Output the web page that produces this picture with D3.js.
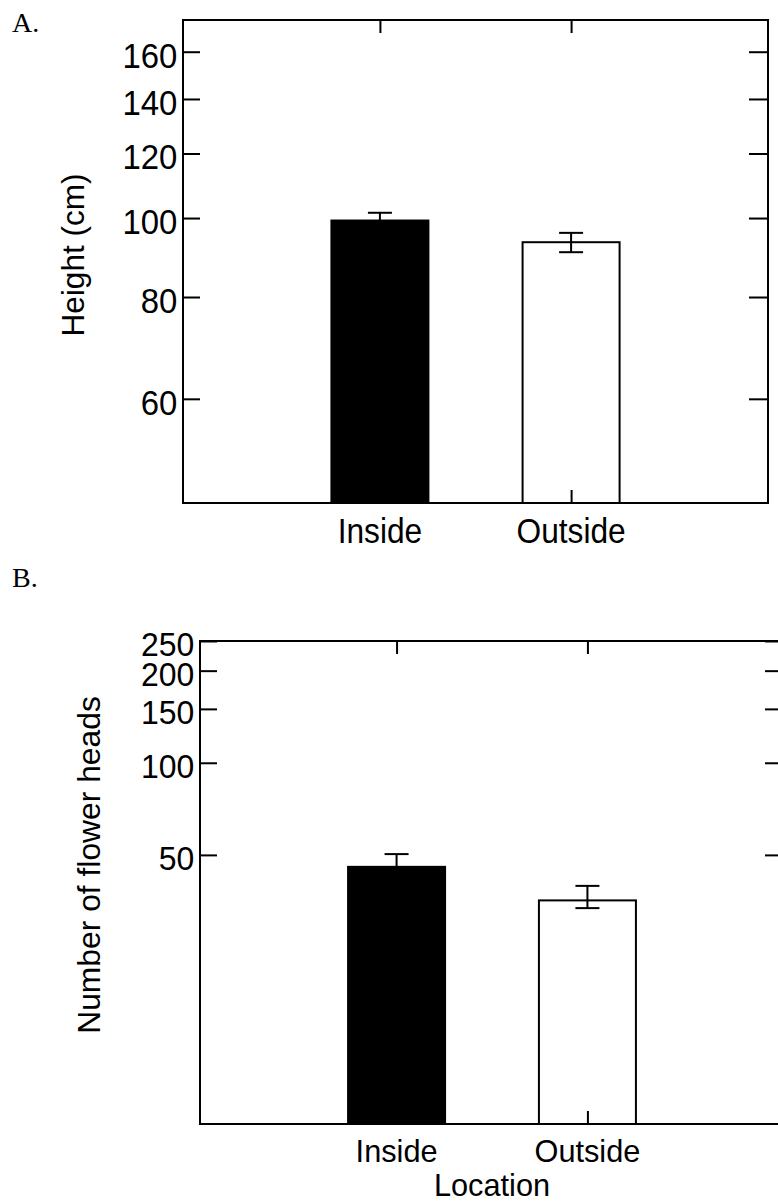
<!DOCTYPE html>
<html>
<head>
<meta charset="utf-8">
<script src="https://cdn.jsdelivr.net/npm/d3@7"></script>
<style>
  body { margin: 0; background: #fff; }
  svg { display: block; }
</style>
</head>
<body>
<script>
// data
var locations = ["Inside", "Outside"];

var heightMean = [99.3, 93.4];
var heightLow = [97.1, 90.8];
var heightHigh = [101.5, 95.9];
var heightTicks = [60, 80, 100, 120, 140, 160];

var headsMean = [45.7, 35.5];
var headsLow = [41.5, 33.5];
var headsHigh = [50.3, 39.6];
var headsTicks = [50, 100, 150, 200, 250];

var sans = "'Liberation Sans', Arial, Helvetica, sans-serif";
var serif = "'Liberation Serif', 'Times New Roman', serif";

var svg = d3.select("body").append("svg")
  .attr("width", 778)
  .attr("height", 1202);

svg.append("rect").attr("width", 778).attr("height", 1202).attr("fill", "#fff");

function drawPanel(o) {
  var x = d3.scalePoint().domain(locations).range([o.left, o.right]).padding(1.03);
  var y = d3.scaleLog().domain(o.domain).range([o.bottom, o.top]);
  var g = svg.append("g");
  var barW = 97;

  // bars
  g.selectAll("rect.bar")
    .data(locations)
    .enter()
    .append("rect")
    .attr("class", "bar")
    .attr("x", function(d) { return x(d) - barW / 2; })
    .attr("y", function(d, i) { return y(o.mean[i]); })
    .attr("width", barW)
    .attr("height", function(d, i) { return o.bottom - y(o.mean[i]); })
    .attr("fill", function(d, i) { return i == 0 ? "#000" : "#fff"; })
    .attr("stroke", "#000")
    .attr("stroke-width", 2);

  // error bars
  var eb = g.selectAll("g.err")
    .data(locations)
    .enter()
    .append("g")
    .attr("class", "err")
    .attr("stroke", "#000")
    .attr("stroke-width", 2);
  eb.append("line")
    .attr("x1", function(d) { return x(d); })
    .attr("x2", function(d) { return x(d); })
    .attr("y1", function(d, i) { return y(o.low[i]); })
    .attr("y2", function(d, i) { return y(o.high[i]); });
  [o.low, o.high].forEach(function(arr) {
    eb.append("line")
      .attr("x1", function(d) { return x(d) - 12; })
      .attr("x2", function(d) { return x(d) + 12; })
      .attr("y1", function(d, i) { return y(arr[i]); })
      .attr("y2", function(d, i) { return y(arr[i]); });
  });

  // left axis, ticks pointing in
  var ax = g.append("g")
    .attr("transform", "translate(" + o.left + ",0)")
    .call(d3.axisLeft(y).tickValues(o.ticks).tickFormat(d3.format("d"))
      .tickSize(-17).tickSizeOuter(0).tickPadding(6));
  ax.select(".domain").remove();
  ax.selectAll("line").attr("stroke", "#000").attr("stroke-width", 2);
  ax.selectAll("text")
    .attr("fill", "#000")
    .attr("font-family", sans)
    .attr("font-size", o.tickFont)
    .attr("dy", "0.44em")
    .attr("transform", "scale(" + o.tickSx + ",1)");

  // right axis, no labels
  var ar = g.append("g")
    .attr("transform", "translate(" + o.right + ",0)")
    .call(d3.axisRight(y).tickValues(o.ticks).tickFormat("").tickSize(-19).tickSizeOuter(0));
  ar.select(".domain").remove();
  ar.selectAll("line").attr("stroke", "#000").attr("stroke-width", 2);

  // top and bottom category ticks
  var at = g.append("g")
    .attr("transform", "translate(0," + o.top + ")")
    .call(d3.axisTop(x).tickFormat("").tickSize(-13).tickSizeOuter(0));
  at.select(".domain").remove();
  at.selectAll("line").attr("stroke", "#000").attr("stroke-width", 2);

  var ab = g.append("g")
    .attr("transform", "translate(0," + o.bottom + ")")
    .call(d3.axisBottom(x).tickFormat("").tickSize(-13).tickSizeOuter(0));
  ab.select(".domain").remove();
  ab.selectAll("line").attr("stroke", "#000").attr("stroke-width", 2);

  // frame
  g.append("rect")
    .attr("x", o.left)
    .attr("y", o.top)
    .attr("width", o.right - o.left)
    .attr("height", o.bottom - o.top)
    .attr("fill", "none")
    .attr("stroke", "#000")
    .attr("stroke-width", 2);

  // category labels
  g.selectAll("text.cat")
    .data(locations)
    .enter()
    .append("text")
    .attr("class", "cat")
    .text(function(d) { return d; })
    .attr("text-anchor", "middle")
    .attr("font-family", sans)
    .attr("font-size", o.labelFont)
    .attr("transform", function(d) {
      return "translate(" + x(d) + "," + o.labelY + ") scale(" + o.labelSx + ",1)";
    });

  // y title
  g.append("text")
    .text(o.title)
    .attr("text-anchor", "middle")
    .attr("font-family", sans)
    .attr("font-size", o.titleFont)
    .attr("transform", "translate(" + o.titleX + "," + o.titleY + ") rotate(-90)");

  // panel letter
  g.append("text")
    .text(o.letter)
    .attr("x", 12)
    .attr("y", o.letterY)
    .attr("font-family", serif)
    .attr("font-size", 28);

  if (o.xTitle) {
    g.append("text")
      .text(o.xTitle)
      .attr("text-anchor", "middle")
      .attr("font-family", sans)
      .attr("font-size", o.labelFont)
      .attr("transform", "translate(" + (o.left + o.right) / 2 + "," + o.xTitleY + ") scale(" + o.labelSx + ",1)");
  }
}

drawPanel({
  letter: "A.", letterY: 32,
  left: 183, right: 768, top: 20, bottom: 503,
  domain: [44.7, 175],
  mean: heightMean, low: heightLow, high: heightHigh, ticks: heightTicks,
  tickFont: 35, tickSx: 0.94,
  labelFont: 36, labelSx: 0.88, labelY: 543,
  title: "Height (cm)", titleFont: 31.5, titleX: 84, titleY: 255
});

drawPanel({
  letter: "B.", letterY: 587,
  left: 200, right: 784, top: 641, bottom: 1124,
  domain: [6.6, 250],
  mean: headsMean, low: headsLow, high: headsHigh, ticks: headsTicks,
  tickFont: 34, tickSx: 0.94,
  labelFont: 32, labelSx: 0.96, labelY: 1162,
  title: "Number of flower heads", titleFont: 31.8, titleX: 100, titleY: 865,
  xTitle: "Location", xTitleY: 1196
});
</script>
</body>
</html>
